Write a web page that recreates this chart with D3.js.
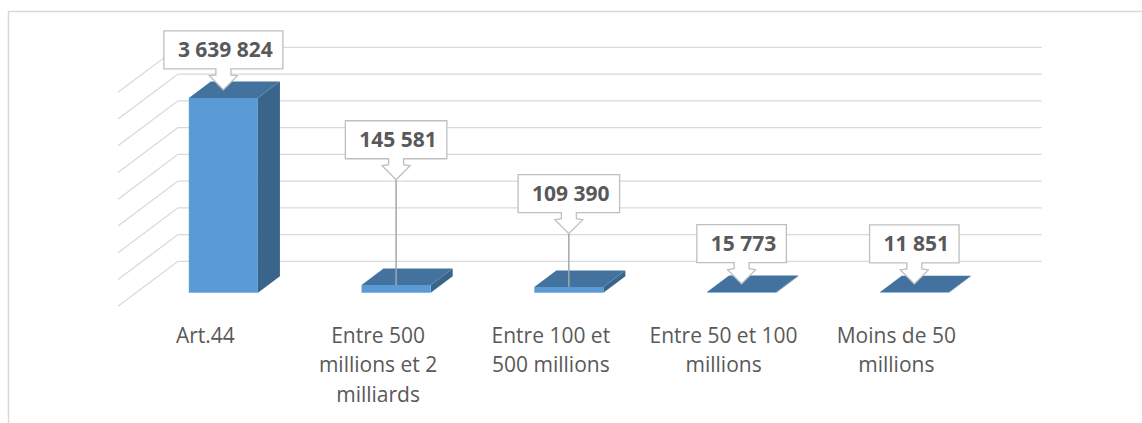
<!DOCTYPE html>
<html>
<head>
<meta charset="utf-8">
<script src="https://cdn.jsdelivr.net/npm/d3@7"></script>
<style>
  html, body { margin: 0; padding: 0; background: #ffffff; }
  svg { display: block; }
</style>
</head>
<body>
<svg id="chart" width="1142" height="423"></svg>
<script>
// ---- data ----
const categories = [
  "Art.44",
  "Entre 500 millions et 2 milliards",
  "Entre 100 et 500 millions",
  "Entre 50 et 100 millions",
  "Moins de 50 millions"
];
const values = [3639824, 145581, 109390, 15773, 11851];
const yTickValues = [0, 500000, 1000000, 1500000, 2000000, 2500000, 3000000, 3500000, 4000000];

// ---- layout (not data) ----
const labelLift = [0, 97, 45, 0, 0];   // manual lift of moved data-label callouts
const W = 1142, H = 423;
const backLeft = 178, backRight = 1041.7;
const floorBack = 261.3, topBack = 47.3;
const depth = 60, slope = 0.75;      // wall depth in px, dy/dx of receding lines
const zBackBar = 20, zFrontBar = 42; // bar depth span (0 = back wall)

const svg = d3.select("#chart");
svg.append("rect").attr("width", W).attr("height", H).attr("fill", "#fff");
// chart border
svg.append("path")
  .attr("d", `M8.5,${H} L8.5,11.5 L${W},11.5`)
  .attr("fill", "none").attr("stroke", "#D9D9D9").attr("stroke-width", 1.5);

const y = d3.scaleLinear().domain([0, 4000000]).range([floorBack, topBack]);
const x = d3.scaleBand().domain(categories).range([backLeft, backRight]).padding(0);
const step = x.step();
const barW = step * 0.4;

// projection: back-plane (xb, yb) pushed forward by depth z
const P = (xb, yb, z) => [xb - z, yb + slope * z];

// ---- gridlines ----
const grid = svg.append("g").attr("stroke", "#D9D9D9").attr("stroke-width", 1.3).attr("fill", "none");
yTickValues.forEach(v => {
  const yb = y(v);
  const a = P(backLeft, yb, depth);
  grid.append("path").attr("d", `M${a[0]},${a[1]} L${backLeft},${yb} L${backRight},${yb}`);
});

// ---- bars ----
const cFront = "#5B9BD5", cTop = "#43729F", cSide = "#3A6489";
const bars = svg.append("g");
values.forEach((v, i) => {
  const cx = x(categories[i]) + step / 2 + 1;
  const l = cx - barW / 2, r = cx + barW / 2;
  const yt = y(v), yb0 = y(0);
  const pt = (xx, yy, z) => P(xx, yy, z).join(",");
  bars.append("path").attr("fill", cSide)
    .attr("d", `M${pt(r, yt, zFrontBar)} L${pt(r, yt, zBackBar)} L${pt(r, yb0, zBackBar)} L${pt(r, yb0, zFrontBar)} Z`);
  bars.append("path").attr("fill", cTop)
    .attr("d", `M${pt(l, yt, zFrontBar)} L${pt(l, yt, zBackBar)} L${pt(r, yt, zBackBar)} L${pt(r, yt, zFrontBar)} Z`);
  bars.append("path").attr("fill", cFront)
    .attr("d", `M${pt(l, yt, zFrontBar)} L${pt(r, yt, zFrontBar)} L${pt(r, yb0, zFrontBar)} L${pt(l, yb0, zFrontBar)} Z`);
});

// ---- category labels ----
const catG = svg.append("g")
  .attr("font-family", "'Open Sans', sans-serif").attr("font-size", 21).attr("fill", "#595959")
  .attr("text-anchor", "middle");
const maxLabelW = 156;
categories.forEach((c, i) => {
  const cx = x(c) + step / 2 - depth + 1;
  const t = catG.append("text").attr("x", cx).attr("y", 343);
  const words = c.split(" ");
  let lines = [], cur = [];
  const probe = catG.append("text").attr("visibility", "hidden");
  words.forEach(w => {
    const trial = cur.concat([w]).join(" ");
    probe.text(trial);
    if (cur.length && probe.node().getComputedTextLength() > maxLabelW) {
      lines.push(cur.join(" "));
      cur = [w];
    } else cur.push(w);
  });
  lines.push(cur.join(" "));
  probe.remove();
  lines.forEach((ln, k) => {
    t.append("tspan").attr("x", cx).attr("y", 343 + k * 29.3).text(ln);
  });
});

// ---- data label callouts ----
const fmt = d3.formatLocale({ decimal: ",", thousands: " ", grouping: [3], currency: ["", " €"] }).format(",d");
const lab = svg.append("g");
values.forEach((v, i) => {
  const cx = x(categories[i]) + step / 2 + 1;
  const tipX = cx - zFrontBar;
  const anchorY = y(v) + slope * (zBackBar + zFrontBar) / 2;
  const frontTopY = y(v) + slope * zFrontBar;
  const tipY = anchorY - labelLift[i];
  const bottom = tipY - 21, boxH = 38;
  const top = bottom - boxH;

  const txt = lab.append("text")
    .attr("font-family", "'Open Sans', sans-serif").attr("font-weight", "bold")
    .attr("font-size", 21).attr("fill", "#595959").attr("text-anchor", "middle")
    .attr("x", tipX + 2).attr("y", top + boxH / 2 + 7.5)
    .text(fmt(v));
  const tw = txt.node().getComputedTextLength();
  const bw = tw + 24;
  const L = tipX - bw / 2, R = tipX + bw / 2;
  const sw = 7.5, hw = 14;
  const d = `M${L},${top} L${R},${top} L${R},${bottom} L${tipX + sw},${bottom} L${tipX + sw},${bottom + 6} ` +
            `L${tipX + hw},${bottom + 7} L${tipX},${tipY} L${tipX - hw},${bottom + 7} L${tipX - sw},${bottom + 6} ` +
            `L${tipX - sw},${bottom} L${L},${bottom} Z`;
  if (labelLift[i] > 0) {
    lab.insert("line", "text")
      .attr("x1", tipX).attr("y1", tipY).attr("x2", tipX).attr("y2", frontTopY)
      .attr("stroke", "#A6A6A6").attr("stroke-width", 1.5);
  }
  lab.insert("path", "text").attr("d", d)
    .attr("fill", "#ffffff").attr("stroke", "#BFBFBF").attr("stroke-width", 1.3);
});
</script>
</body>
</html>
